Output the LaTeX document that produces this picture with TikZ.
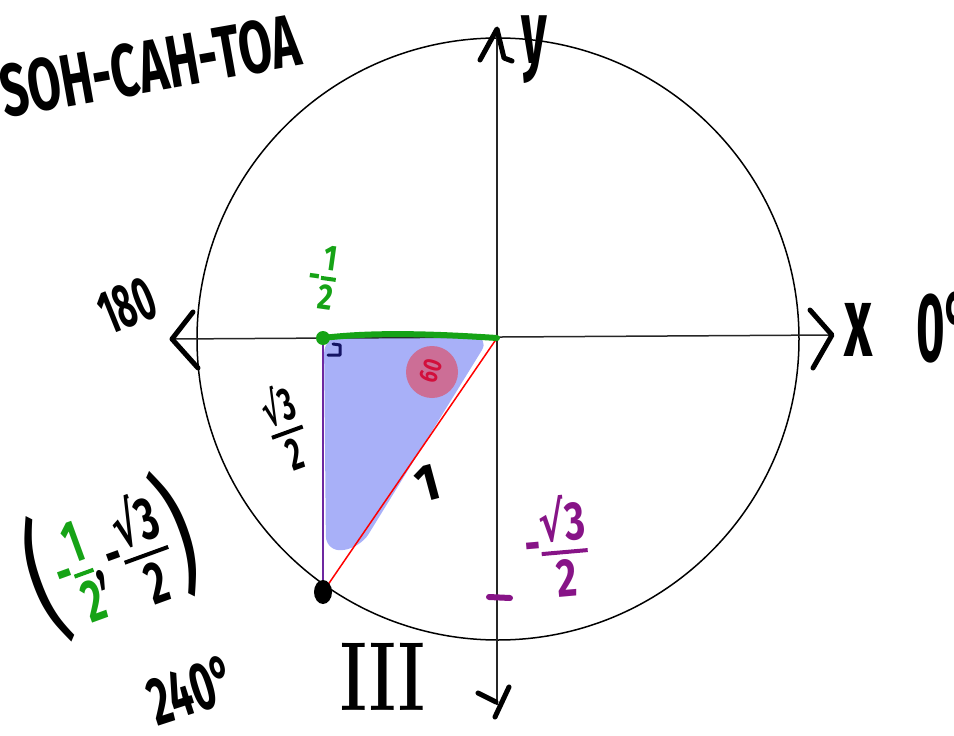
\documentclass[tikz,border=0pt]{standalone}
\usepackage{fontspec}
\setsansfont{Fira Sans}
\newfontfamily\symf{DejaVu Sans}
\usetikzlibrary{calc}
\definecolor{hgreen}{RGB}{22,163,22}
\definecolor{hpurple}{RGB}{135,20,135}
\definecolor{lpurple}{RGB}{110,40,160}
\definecolor{blobblue}{RGB}{168,176,248}
\definecolor{pinkc}{RGB}{204,110,150}
\definecolor{crimson}{RGB}{210,15,60}
\definecolor{hnavy}{RGB}{20,20,100}
\newcommand{\hfr}[2]{\begin{tabular}{@{}c@{}}#1\\[-0.12em]\hline\rule{0pt}{0.8em}#2\end{tabular}}
\newcommand{\rtt}{{\symf √}3}
\newcommand{\bigp}[1]{\raisebox{-28pt}{\fontsize{135}{135}\selectfont\mdseries #1}}
\begin{document}
\begin{tikzpicture}[x=1pt,y=-1pt,
  hw/.style={font=\fontsize{#1}{#1}\selectfont\sffamily\bfseries\setlength{\arrayrulewidth}{4pt}, inner sep=0pt},
  marker/.style={line width=5pt, line cap=round, line join=round},
  axisline/.style={line width=1.5pt, black!85}]
\useasboundingbox (0,0) rectangle (954,736);

% key points
\coordinate (O) at (497,338);
\coordinate (P) at (323,592);
\coordinate (Q) at (323,338);
\coordinate (Xp) at (832,335);
\coordinate (Xm) at (172,339);
\coordinate (Yp) at (497,29);
\coordinate (Ym) at (497,705);

% blue shading
\fill[blobblue, rounded corners=16pt] (324,337) -- (490,337) -- (360,548) -- (326,552) -- cycle;
% angle circle
\fill[pinkc] (432,372) circle[radius=26pt];
\node[hw=26, text=crimson, rotate=72] (ang) at (431,371) {\scalebox{0.75}[1]{60}};

% unit circle and axes
\draw[line width=1.5pt] (498,339) circle[radius=301pt];
\draw[axisline] (Xm) -- (Xp);
\draw[axisline] (Yp) -- (Ym);
% hand-drawn arrow heads
\draw[marker] (193,312) -- (Xm) -- (198,368);
\draw[marker] (810,310) -- (Xp) -- (813,368);
\draw[marker] (480,60) -- (Yp) -- (504,58) -- (512,61);
\draw[marker] (478,693) -- (496,702);
\draw[marker] (509,687) -- (495,717);

% triangle
\draw[lpurple, line width=1.5pt] (Q) -- (P);
\draw[red, line width=1.5pt] (O) -- (P);
\draw[hnavy, line width=3pt, line cap=round, line join=round] (333,344) -- (340,345) -- (340,355) -- (328,355);
\draw[hgreen, line width=6pt, line cap=round] (Q) .. controls (380,331) and (450,335) .. (O);
\fill[hgreen] (Q) circle[radius=7pt];
\fill[black] (P) ellipse[x radius=9pt, y radius=12pt];

% purple tick on y axis
\draw[hpurple, line width=6pt, line cap=round] (489,597) -- (510,598);

% labels
\node[hw=74, rotate=10] (soh) at (150,66) {\scalebox{0.65}[1]{SOH-CAH-TOA}};
\node[hw=62, rotate=22] (l180) at (127,306) {\scalebox{0.55}[1]{180}};
\node[hw=100] (lx) at (859,330) {\scalebox{0.55}[1]{x}};
\node[hw=98, anchor=west] (l0) at (916,328) {\scalebox{0.5}[1]{0°}};
\node[hw=90] (ly) at (534,50) {\scalebox{0.55}[1]{y}};
\node[hw=36, text=hgreen, rotate=-8] (half) at (322,282) {\scalebox{0.8}[1]{-\hfr{1}{2}}};
\node[hw=46, rotate=20] (sin) at (288,434) {\scalebox{0.6}[1]{\hfr{\rtt}{2}}};
\node[hw=52, rotate=15] (hyp) at (428,483) {1};
\node[hw=54, text=hpurple, rotate=5] (ny) at (557,555) {\scalebox{0.72}[1]{-\hfr{\rtt}{2}}};
\node[hw=60, rotate=20] (pt) at (113,562) {\scalebox{0.65}[1]{\bigp{(}{\color{hgreen}-\hfr{1}{2}},\,-\hfr{\rtt}{2}\bigp{)}}};
\node[hw=68, rotate=18] (l240) at (192,690) {\scalebox{0.6}[1]{240°}};
\node[font=\fontsize{98}{98}\selectfont\rmfamily\bfseries, inner sep=0pt] (q3) at (383,677) {\scalebox{0.65}[1]{III}};
\end{tikzpicture}
\end{document}
